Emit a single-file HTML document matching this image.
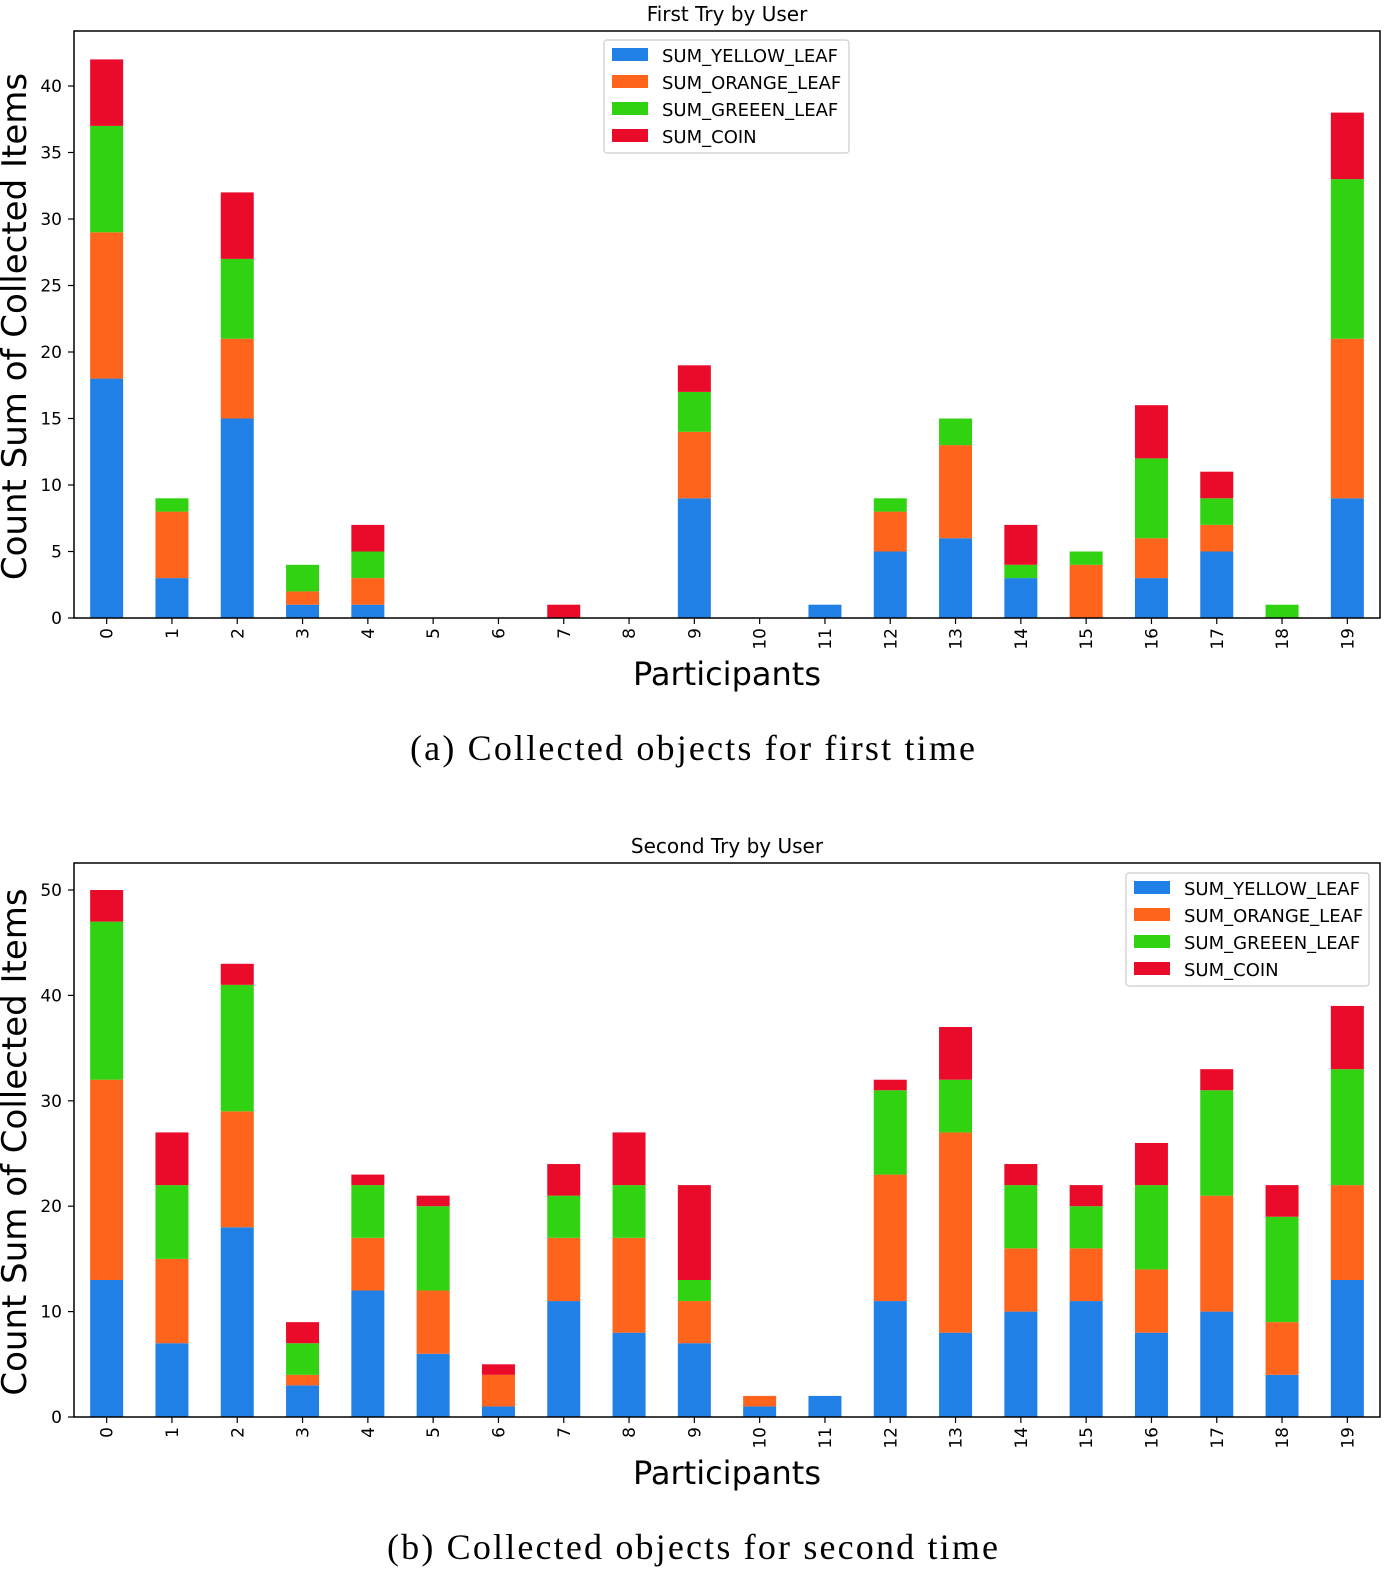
<!DOCTYPE html>
<html><head><meta charset="utf-8"><style>
html,body{margin:0;padding:0;background:#fff;width:1400px;height:1588px;overflow:hidden}
svg text{font-family:"DejaVu Sans","Liberation Sans",sans-serif;fill:#000}
.cap{font-family:"Liberation Serif",serif}
</style></head><body>
<svg id="s" width="1400" height="1588" xmlns="http://www.w3.org/2000/svg"></svg>
<script>
const categories = ["0","1","2","3","4","5","6","7","8","9","10","11","12","13","14","15","16","17","18","19"];
const seriesNames = ["SUM_YELLOW_LEAF","SUM_ORANGE_LEAF","SUM_GREEEN_LEAF","SUM_COIN"];
const colors = ["#2180e6","#fe641b","#31d211","#ea0a2a"];
const yellow1 = [18,3,15,1,1,0,0,0,0,9,0,1,5,6,3,0,3,5,0,9];
const orange1 = [11,5,6,1,2,0,0,0,0,5,0,0,3,7,0,4,3,2,0,12];
const green1  = [8,1,6,2,2,0,0,0,0,3,0,0,1,2,1,1,6,2,1,12];
const coin1   = [5,0,5,0,2,0,0,1,0,2,0,0,0,0,3,0,4,2,0,5];
const yellow2 = [13,7,18,3,12,6,1,11,8,7,1,2,11,8,10,11,8,10,4,13];
const orange2 = [19,8,11,1,5,6,3,6,9,4,1,0,12,19,6,5,6,11,5,9];
const green2  = [15,7,12,3,5,8,0,4,5,2,0,0,8,5,6,4,8,10,10,11];
const coin2   = [3,5,2,2,1,1,1,3,5,9,0,0,1,5,2,2,4,2,3,6];
const ticks1 = [0,5,10,15,20,25,30,35,40];
const ticks2 = [0,10,20,30,40,50];

const NS="http://www.w3.org/2000/svg", svg=document.getElementById('s');
function mk(tag,attrs,parent,txt){const e=document.createElementNS(NS,tag);for(const k in attrs)e.setAttribute(k,attrs[k]);if(txt!==undefined)e.textContent=txt;(parent||svg).appendChild(e);return e;}

function chart(cfg){
  const g=mk('g',{});
  
  
  const L=74,R=1380,T=cfg.top,B=cfg.bottom;
  const y=v=>B-(v/cfg.ymax)*(B-T);
  const step=(R-L)/categories.length, bw=33;
  const x=i=>L+step*(i+0.5);
  const t=mk('text',{x:727,y:T-10,'text-anchor':'middle','font-size':20},g,cfg.title);
  
  
  const series=cfg.series;
  categories.forEach((c,i)=>{
    let acc=0;
    series.forEach((s,k)=>{
      const v=s[i]; if(v<=0)return;
      const r=mk('rect',{x:x(i)-bw/2,y:y(acc+v),width:bw,height:y(acc)-y(acc+v),fill:colors[k]},g);
      
      
      acc+=v;
    });
    mk('line',{x1:x(i),x2:x(i),y1:B,y2:B+6,stroke:'#000','stroke-width':1.2},g);
    const tl=mk('text',{x:0,y:0,'font-size':17,'text-anchor':'end',transform:`translate(${x(i)+6},${B+10}) rotate(-90)`},g,c);
    
    
  });
  cfg.ticks.forEach(v=>{
    mk('line',{x1:L-6,x2:L,y1:y(v),y2:y(v),stroke:'#000','stroke-width':1.2},g);
    const tl=mk('text',{x:L-12,y:y(v)+6,'font-size':17,'text-anchor':'end'},g,v);
    
    
  });
  const fr=mk('rect',{x:L,y:T,width:R-L,height:B-T,fill:'none',stroke:'#000','stroke-width':1.5},g);
  
  
  const xl=mk('text',{x:727,y:B+67,'text-anchor':'middle','font-size':32},g,'Participants');
  
  
  const yl=mk('text',{x:0,y:0,'text-anchor':'middle','font-size':34,transform:`translate(26,${(T+B)/2+2}) rotate(-90)`},g,'Count Sum of Collected Items');
  
  
  const lg=mk('g',{},g);
  
  
  mk('rect',{x:cfg.lx,y:cfg.ly,width:cfg.lw,height:113,fill:'#fff',stroke:'#ccc','stroke-width':1.2,rx:3},lg);
  seriesNames.forEach((n,k)=>{
    const e=mk('g',{},lg);
    
    
    const cy=cfg.ly+15+27*k;
    mk('rect',{x:cfg.lx+8,y:cy-7,width:36,height:13,fill:colors[k]},e);
    mk('text',{x:cfg.lx+58,y:cy+7,'font-size':18},e,n);
  });
  const cp=mk('text',{x:cfg.capx,y:cfg.cap,'font-size':36,'class':'cap',textLength:cfg.capw,lengthAdjust:'spacing'},g,cfg.caption);
  
  
}
chart({id:'chart-first-try',title:'First Try by User',top:31,bottom:618,ymax:(618-31)/((618-86)/40),ticks:ticks1,
  series:[yellow1,orange1,green1,coin1],lx:604,ly:40,lw:245,cap:760,capx:410,capw:565,caption:'(a) Collected objects for first time'});
chart({id:'chart-second-try',title:'Second Try by User',top:863,bottom:1417,ymax:(1417-863)/((1417-890)/50),ticks:ticks2,
  series:[yellow2,orange2,green2,coin2],lx:1126,ly:873,lw:243,cap:1559,capx:387,capw:611,caption:'(b) Collected objects for second time'});
</script>
</body></html>
